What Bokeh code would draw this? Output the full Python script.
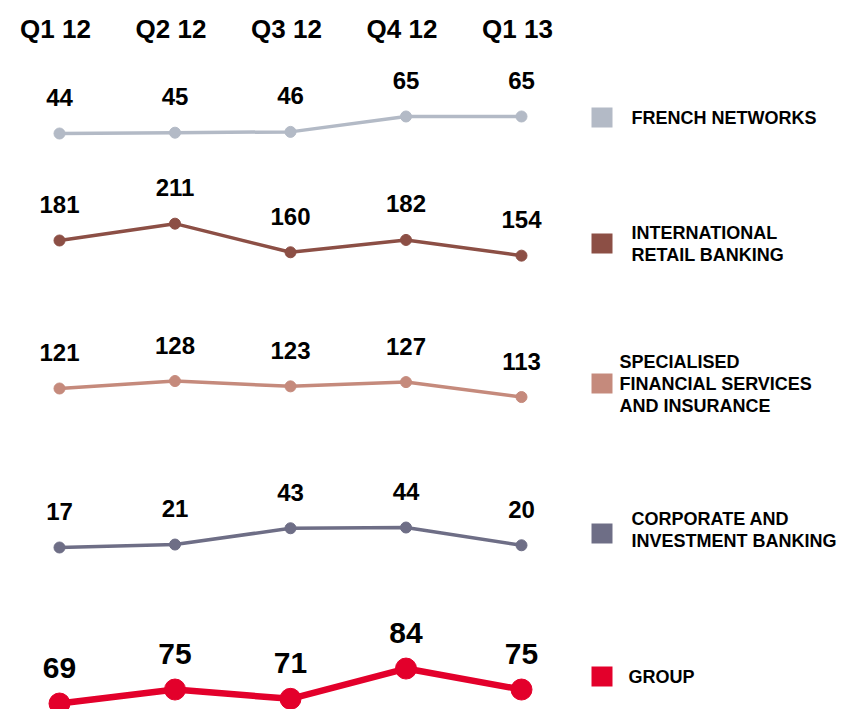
from bokeh.plotting import figure
from bokeh.models import Range1d, Label, ColumnDataSource
from bokeh.core.properties import value
from bokeh.embed import file_html
from bokeh.resources import INLINE

# ---------------- data ----------------
quarters = ["Q1 12", "Q2 12", "Q3 12", "Q4 12", "Q1 13"]
french_networks = [44, 45, 46, 65, 65]
international_retail = [181, 211, 160, 182, 154]
specialised_fs = [121, 128, 123, 127, 113]
corporate_ib = [17, 21, 43, 44, 20]
group_total = [69, 75, 71, 84, 75]

series_names = ["FRENCH NETWORKS", "INTERNATIONAL\nRETAIL BANKING",
                "SPECIALISED\nFINANCIAL SERVICES\nAND INSURANCE",
                "CORPORATE AND\nINVESTMENT BANKING", "GROUP"]

# ---------------- layout ----------------
W, H = 843, 709
MARGIN = 0
FONT = "Liberation Sans"
x_px0, x_step = 59, 115.5          # window pixel of first quarter, pixels per quarter
x_start = -(x_px0 - MARGIN) / x_step
x_end = x_start + W / x_step

def fx(px):   # window pixel x -> data x
    return x_start + (px - MARGIN) / x_step

def fy(py):   # window pixel y -> main (flipped) y
    return py - MARGIN

bands = [
    dict(vals=french_networks, color="#B3BAC6", anchor=133, scale=0.81, lw=3.5, ms=11, fs="24px",
         sq=117, lx=631, ly=117),
    dict(vals=international_retail, color="#8C4F45", anchor=240, scale=0.561, lw=3.5, ms=11, fs="24px",
         sq=243, lx=631, ly=243),
    dict(vals=specialised_fs, color="#C58A7C", anchor=388, scale=1.067, lw=3.5, ms=11, fs="24px",
         sq=383, lx=619, ly=383),
    dict(vals=corporate_ib, color="#6E6E86", anchor=547, scale=0.74, lw=3.5, ms=11, fs="24px",
         sq=533, lx=631, ly=529),
    dict(vals=group_total, color="#E3002B", anchor=703, scale=2.33, lw=6.5, ms=21, fs="30px",
         sq=676, lx=628, ly=676),
]

p = figure(width=W, height=H, output_backend="svg", toolbar_location=None,
           x_range=Range1d(x_start, x_end), y_range=Range1d(H, 0),
           min_border=0, outline_line_color=None)
p.axis.visible = False
p.grid.visible = False
p.background_fill_color = "white"
p.border_fill_color = "white"

xs = list(range(len(quarters)))

# column headers
p.text(x=xs, y=[fy(28)] * len(xs), text=quarters, x_offset=-4,
       text_font=value(FONT), text_font_style="bold", text_font_size="26px",
       text_color="#000000", text_align="center", text_baseline="middle")

for i, b in enumerate(bands):
    v0 = b["vals"][0]
    top_val = v0 + (b["anchor"] - MARGIN) / b["scale"]
    bot_val = v0 - (H + MARGIN - b["anchor"]) / b["scale"]
    rname = f"band{i}"
    p.extra_y_ranges[rname] = Range1d(bot_val, top_val)
    src = ColumnDataSource(dict(x=xs, y=b["vals"], t=[str(v) for v in b["vals"]]))
    p.line("x", "y", source=src, y_range_name=rname, line_color=b["color"], line_width=b["lw"])
    p.scatter("x", "y", source=src, y_range_name=rname, size=b["ms"],
              fill_color=b["color"], line_color=b["color"])
    p.text("x", "y", text="t", source=src, y_range_name=rname, y_offset=-36,
           text_font=value(FONT), text_font_style="bold", text_font_size=b["fs"],
           text_color="#000000", text_align="center", text_baseline="middle")
    p.rect(x=[fx(601.5)], y=[fy(b["sq"])], width=21, height=20,
           width_units="screen", height_units="screen",
           fill_color=b["color"], line_color=None)
    p.add_layout(Label(x=fx(b["lx"]), y=fy(b["ly"]), text=series_names[i],
                       text_font=FONT, text_font_style="bold", text_font_size="18px",
                       text_color="#000000", text_align="left", text_baseline="middle",
                       text_line_height=1.1))

open("out.html", "w").write(file_html(p, INLINE))
